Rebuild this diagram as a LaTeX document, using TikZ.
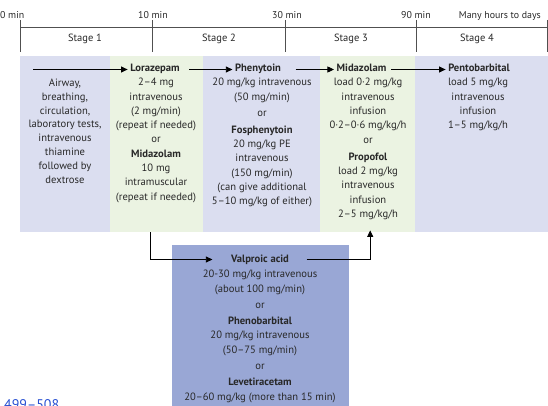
\documentclass[tikz,border=0pt]{standalone}
\usepackage{fontspec}
\setmainfont{PT Sans}
\usetikzlibrary{arrows.meta}
\definecolor{bandblue}{RGB}{219,222,240}
\definecolor{bandgreen}{RGB}{235,243,226}
\definecolor{boxblue}{RGB}{153,167,213}
\definecolor{txt}{RGB}{40,40,40}
\definecolor{rulec}{RGB}{80,80,80}
\definecolor{linkblue}{RGB}{40,80,210}
\begin{document}
\begin{tikzpicture}[x=1pt,y=-1pt,
  every node/.style={text=txt, inner sep=0pt},
  body/.style={align=center, anchor=north, font=\fontsize{10.6}{14.3}\selectfont, execute at begin node=\strut},
  head/.style={anchor=base, font=\fontsize{10.6}{14.3}\selectfont\bfseries, inner xsep=2.5pt, text height=7pt, text depth=2pt},
  tlabel/.style={anchor=base, font=\fontsize{9.9}{12}\selectfont},
  stagelbl/.style={anchor=base, font=\fontsize{10.5}{12}\selectfont},
  band/.style={draw=none, inner sep=0pt, minimum height=176pt, anchor=north west},
  arr/.style={draw=black, line width=0.8pt, -{Triangle[length=6.5pt,width=6pt]}},
  tickline/.style={draw=rulec, line width=0.7pt}]

\useasboundingbox (0,0) rectangle (548,406);
\clip (0,0) rectangle (548,406);

% timeline
\node[tlabel, anchor=base west] (t0) at (0,19) {0 min};
\node[tlabel] (t10) at (153,19) {10 min};
\node[tlabel] (t30) at (287,19) {30 min};
\node[tlabel] (t90) at (416,19) {90 min};
\node[tlabel, anchor=base east] (tend) at (541,19) {Many hours to days};
\draw[tickline] (20,27) -- (548,27);
\foreach \x in {20,152,285,416,547}{\draw[tickline] (\x,20) -- (\x,52);}
\node[stagelbl] (s1) at (85,42) {Stage 1};
\node[stagelbl] (s2) at (219,42) {Stage 2};
\node[stagelbl] (s3) at (351,42) {Stage 3};
\node[stagelbl] (s4) at (477,42) {Stage 4};

% bands
\node[band, fill=bandblue, minimum width=90pt] (c1) at (20,56) {};
\node[band, fill=bandgreen, minimum width=93pt] (c2) at (110,56) {};
\node[band, fill=bandblue, minimum width=117pt] (c3) at (203,56) {};
\node[band, fill=bandgreen, minimum width=95pt] (c4) at (320,56) {};
\node[band, fill=bandblue, minimum width=133pt] (c5) at (415,56) {};

% lower box
\node[draw=none, fill=boxblue, minimum width=177pt, minimum height=175pt, anchor=north west] (lowbox) at (172,245) {};

% column 1
\node[body, font=\fontsize{10.6}{13.9}\selectfont] (b1) at (65,78.5) {Airway,\\breathing,\\circulation,\\laboratory tests,\\intravenous\\thiamine\\followed by\\dextrose};

% column 2
\node[head] (lor) at (155,72) {Lorazepam};
\node[body] (b2) at (156,78) {2–4 mg\\intravenous\\(2 mg/min)\\(repeat if needed)\\or\\\textbf{Midazolam}\\10 mg\\intramuscular\\(repeat if needed)};

% column 3
\node[head] (phe) at (258,72) {Phenytoin};
\node[body] (b3) at (262,78) {20 mg/kg intravenous\\(50 mg/min)\\[2.5pt]or\\[2pt]\textbf{Fosphenytoin}\\20 mg/kg PE\\intravenous\\(150 mg/min)\\(can give additional\\5–10 mg/kg of either)};

% column 4
\node[head] (mid) at (361.5,72) {Midazolam};
\node[body] (b4) at (368,78) {load 0·2 mg/kg\\intravenous\\infusion\\0·2–0·6 mg/kg/h\\[1pt]or\\[2pt]\textbf{Propofol}\\load 2 mg/kg\\intravenous\\infusion\\2–5 mg/kg/h};

% column 5
\node[head] (pen) at (479,72) {Pentobarbital};
\node[body] (b5) at (478,78) {load 5 mg/kg\\intravenous\\infusion\\1–5 mg/kg/h};

% lower box text
\node[head] (val) at (260,262) {Valproic acid};
\node[body] (b6) at (260,270) {20-30 mg/kg intravenous\\(about 100 mg/min)\\[2pt]or\\[2pt]\textbf{Phenobarbital}\\20 mg/kg intravenous\\(50–75 mg/min)\\[2pt]or\\[2pt]\textbf{Levetiracetam}\\20–60 mg/kg (more than 15 min)};

% connectors
\coordinate (start) at (33,69.5);
\draw[arr] (start) -- (lor.west);
\draw[arr, shorten <=7pt] (lor.east) -- (phe.west);
\draw[arr, shorten <=12pt] (phe.east) -- (mid.west);
\draw[arr, shorten <=2pt] (mid.east) -- (pen.west);
\draw[arr, shorten >=16pt] ([xshift=-6.5pt]c2.south) |- (val.west);
\draw[arr, shorten <=15pt, shorten >=-2pt] (val.east) -| ([xshift=2.5pt]c4.south);

% clipped reference text
\node[anchor=base west, text=linkblue, font=\fontsize{14}{16}\selectfont] (ref) at (4,409.5) {499–508};
\end{tikzpicture}
\end{document}
